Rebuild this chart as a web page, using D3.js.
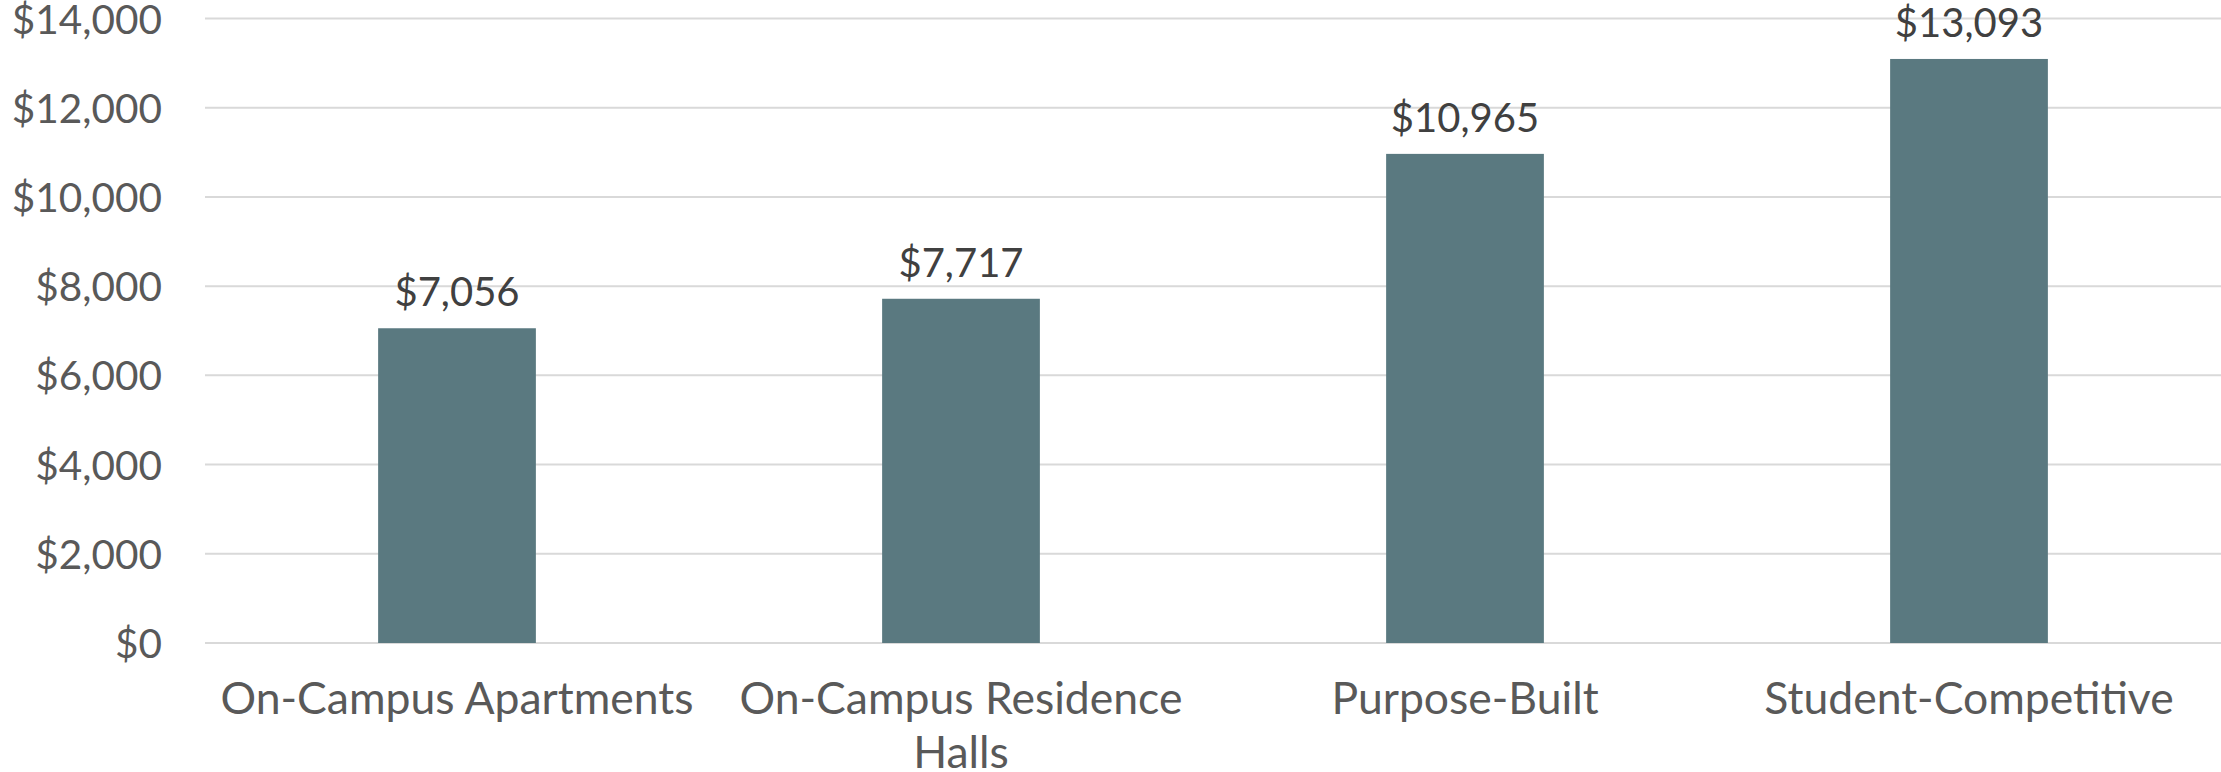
<!DOCTYPE html>
<html>
<head>
<meta charset="utf-8">
<script src="https://cdn.jsdelivr.net/npm/d3@7"></script>
<style>
  html, body { margin: 0; padding: 0; background: #ffffff; }
  svg { display: block; }
  text { font-family: Lato, "Open Sans", sans-serif; }
</style>
</head>
<body>
<svg id="chart" width="2221" height="772"></svg>
<script>
const categories = ["On-Campus Apartments", "On-Campus Residence Halls", "Purpose-Built", "Student-Competitive"];
const values = [7056, 7717, 10965, 13093];
const yTicks = [0, 2000, 4000, 6000, 8000, 10000, 12000, 14000];

const W = 2221, H = 772;
const margin = { left: 205, right: 0, top: 18.5, bottom: 129 };
const svg = d3.select("#chart");

const x = d3.scaleBand().domain(categories).range([margin.left, W - margin.right]).padding(0);
const y = d3.scaleLinear().domain([0, 14000]).range([H - margin.bottom, margin.top]);
const barW = x.bandwidth() * 0.313;
const fmt = v => "$" + d3.format(",")(v);

// gridlines
svg.append("g").selectAll("line").data(yTicks).join("line")
  .attr("x1", margin.left).attr("x2", W - margin.right)
  .attr("y1", d => y(d)).attr("y2", d => y(d))
  .attr("stroke", "#d9d9d9").attr("stroke-width", 2);

// y axis
const yAxis = svg.append("g").attr("transform", `translate(${margin.left - 43},0)`)
  .call(d3.axisLeft(y).tickValues(yTicks).tickFormat(fmt).tickSize(0).tickPadding(0));
yAxis.select(".domain").remove();
yAxis.selectAll("text").attr("font-size", 40.5).attr("fill", "#595959")
  .attr("font-family", "Lato, sans-serif").attr("dy", "0.36em");

// bars
svg.append("g").selectAll("rect").data(values).join("rect")
  .attr("x", (d, i) => x(categories[i]) + (x.bandwidth() - barW) / 2)
  .attr("width", barW)
  .attr("y", d => y(d))
  .attr("height", d => y(0) - y(d))
  .attr("fill", "#5a7980");

// value labels
svg.append("g").selectAll("text").data(values).join("text")
  .attr("x", (d, i) => x(categories[i]) + x.bandwidth() / 2)
  .attr("y", d => y(d) - 22)
  .attr("text-anchor", "middle")
  .attr("font-size", 40).attr("fill", "#404040")
  .text(d => fmt(d));

// x axis labels
const xAxis = svg.append("g").attr("transform", `translate(0,${y(0)})`)
  .call(d3.axisBottom(x).tickSize(0).tickPadding(0));
xAxis.select(".domain").remove();
xAxis.selectAll("text").attr("font-size", 44.5).attr("fill", "#595959")
  .attr("font-family", "Lato, sans-serif")
  .attr("dy", null).attr("y", 71)
  .each(function(d) {
    const t = d3.select(this);
    const words = d.split(" ");
    t.text(null);
    let line = [];
    let lineNo = 0;
    let tspan = t.append("tspan").attr("x", 0).attr("y", 71);
    for (const w of words) {
      line.push(w);
      tspan.text(line.join(" "));
      if (tspan.node().getComputedTextLength() > x.bandwidth() * 0.97 && line.length > 1) {
        line.pop();
        tspan.text(line.join(" "));
        line = [w];
        lineNo++;
        tspan = t.append("tspan").attr("x", 0).attr("y", 71 + lineNo * 54).text(w);
      }
    }
  });
</script>
</body>
</html>
